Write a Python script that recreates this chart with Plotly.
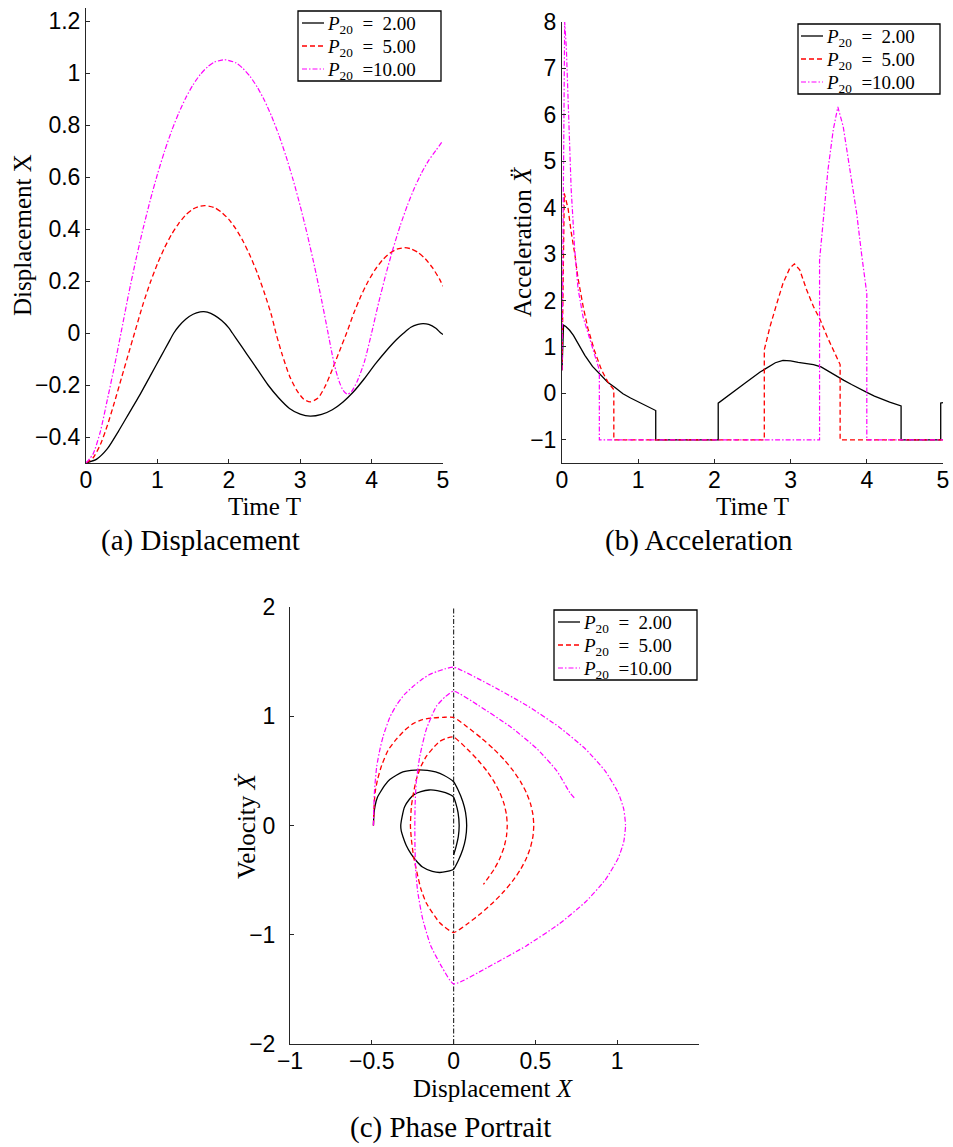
import plotly.graph_objects as go

# ---------------- data ----------------
legend_names = ["<i>P</i><sub>20</sub>\u2002=\u20022.00", "<i>P</i><sub>20</sub>\u2002=\u20025.00",
                "<i>P</i><sub>20</sub>\u2002=10.00"]

# (a) displacement
t_disp_p2 = [0, 0.15, 0.3, 0.45, 0.6, 0.75, 0.9, 1.05, 1.15, 1.23, 1.3, 1.4, 1.5, 1.6, 1.65, 1.7, 1.8, 1.9, 2.0, 2.05,
             2.15, 2.25, 2.4, 2.55, 2.7, 2.85, 3.0, 3.14, 3.3, 3.45, 3.6, 3.75, 3.9, 4.05, 4.2, 4.35, 4.45, 4.55, 4.65,
             4.72, 4.8, 4.9, 4.97, 5.0]
x_disp_p2 = [-0.5, -0.485, -0.445, -0.38, -0.31, -0.24, -0.165, -0.09, -0.04, 0.0, 0.026, 0.054, 0.072, 0.081, 0.082,
             0.08, 0.068, 0.048, 0.02, 0.0, -0.04, -0.08, -0.14, -0.2, -0.25, -0.29, -0.312, -0.32, -0.313, -0.295,
             -0.265, -0.225, -0.175, -0.12, -0.07, -0.025, 0.0, 0.022, 0.033, 0.036, 0.033, 0.018, 0.0, -0.006]

t_disp_p5 = [0, 0.1, 0.2, 0.3, 0.4, 0.5, 0.6, 0.68, 0.8, 0.9, 1.0, 1.1, 1.2, 1.3, 1.4, 1.5, 1.6, 1.67, 1.8, 1.9, 2.0,
             2.1, 2.2, 2.3, 2.4, 2.5, 2.6, 2.66, 2.75, 2.85, 2.95, 3.05, 3.14, 3.25, 3.35, 3.45, 3.55, 3.65, 3.75, 3.85,
             3.95, 4.05, 4.15, 4.25, 4.35, 4.46, 4.55, 4.65, 4.75, 4.85, 4.95, 5.0]
x_disp_p5 = [-0.5, -0.48, -0.43, -0.355, -0.265, -0.17, -0.075, 0.0, 0.112, 0.194, 0.266, 0.328, 0.38, 0.422, 0.455,
             0.477, 0.488, 0.49, 0.482, 0.464, 0.437, 0.4, 0.353, 0.296, 0.23, 0.153, 0.066, 0.0, -0.085, -0.165, -0.22,
             -0.255, -0.265, -0.25, -0.205, -0.14, -0.07, 0.0, 0.076, 0.142, 0.198, 0.244, 0.28, 0.306, 0.322, 0.328,
             0.324, 0.31, 0.286, 0.252, 0.208, 0.18]

t_disp_p10 = [0, 0.1, 0.2, 0.3, 0.4, 0.49, 0.6, 0.7, 0.8, 0.9, 1.0, 1.1, 1.2, 1.3, 1.4, 1.5, 1.6, 1.7, 1.8, 1.94, 2.1,
              2.2, 2.3, 2.4, 2.5, 2.6, 2.7, 2.8, 2.9, 3.0, 3.1, 3.2, 3.3, 3.39, 3.45, 3.5, 3.55, 3.6, 3.66, 3.72, 3.8,
              3.9, 4.0, 4.1, 4.2, 4.3, 4.4, 4.5, 4.6, 4.7, 4.8, 4.9, 5.0]
x_disp_p10 = [-0.5, -0.465, -0.38, -0.255, -0.125, 0.0, 0.154, 0.283, 0.402, 0.511, 0.61, 0.699, 0.778, 0.847, 0.906,
              0.955, 0.994, 1.023, 1.042, 1.051, 1.039, 1.017, 0.986, 0.945, 0.894, 0.833, 0.762, 0.681, 0.59, 0.489,
              0.378, 0.257, 0.126, 0.0, -0.085, -0.145, -0.19, -0.22, -0.236, -0.225, -0.185, -0.11, 0.0, 0.118,
              0.226, 0.324, 0.412, 0.49, 0.558, 0.616, 0.664, 0.702, 0.74]

# (b) acceleration
t_acc_p2 = [0, 0.02, 0.05, 0.1, 0.15, 0.2, 0.25, 0.3, 0.4, 0.5, 0.6, 0.7, 0.8, 0.9, 1.0, 1.1, 1.23, 1.23, 2.05, 2.05,
            2.2, 2.4, 2.6, 2.8, 2.9, 3.0, 3.1, 3.2, 3.3, 3.4, 3.5, 3.6, 3.7, 3.8, 3.9, 4.0, 4.1, 4.2, 4.3, 4.45, 4.45,
            4.97, 4.97, 5.0]
a_acc_p2 = [0.5, 1.47, 1.44, 1.36, 1.25, 1.1, 0.96, 0.82, 0.58, 0.4, 0.24, 0.12, -0.01, -0.1, -0.18, -0.25, -0.37, -1,
            -1, -0.21, -0.02, 0.22, 0.46, 0.66, 0.71, 0.70, 0.67, 0.65, 0.62, 0.57, 0.47, 0.37, 0.28, 0.19, 0.1, 0.02,
            -0.06, -0.13, -0.19, -0.27, -1, -1, -0.21, -0.2]

t_acc_p5 = [0, 0.03, 0.08, 0.12, 0.17, 0.21, 0.28, 0.34, 0.43, 0.52, 0.6, 0.68, 0.68, 2.655, 2.655, 2.73, 2.82, 2.9,
            2.99, 3.05, 3.12, 3.21, 3.3, 3.39, 3.48, 3.56, 3.65, 3.65, 5.0]
a_acc_p5 = [0.5, 4.31, 3.98, 3.48, 2.98, 2.48, 1.85, 1.4, 0.9, 0.5, 0.25, 0.08, -1, -1, 0.94, 1.44, 1.94, 2.37, 2.70,
            2.79, 2.66, 2.23, 1.87, 1.58, 1.22, 0.94, 0.62, -1, -1]

t_acc_p10 = [0, 0.035, 0.057, 0.08, 0.1, 0.12, 0.166, 0.21, 0.276, 0.34, 0.39, 0.44, 0.49, 0.49, 3.38, 3.38, 3.43,
             3.49, 3.56, 3.62, 3.69, 3.78, 3.867, 3.93, 4.0, 4.0, 5.0]
a_acc_p10 = [0.5, 8.0, 7.44, 6.35, 5.28, 4.41, 3.12, 2.26, 1.65, 1.3, 1.05, 0.78, 0.5, -1, -1, 2.87, 3.74, 4.81, 5.68,
             6.17, 5.75, 4.81, 3.88, 3.02, 2.15, -1, -1]

# (c) phase portrait
ph_x_p2 = [-0.49, -0.487, -0.48, -0.465, -0.45, -0.42, -0.39, -0.35, -0.31, -0.26, -0.21, -0.16, -0.11, -0.06, 0.0,
           0.029, 0.056, 0.073, 0.08, 0.073, 0.056, 0.029, 0.0, -0.04, -0.085, -0.13, -0.19, -0.23, -0.26, -0.29,
           -0.31, -0.32, -0.323, -0.315, -0.3, -0.27, -0.24, -0.2, -0.15, -0.1, -0.05, 0.0, 0.014, 0.027, 0.034,
           0.029, 0.014, 0.0]
ph_v_p2 = [0.0, 0.1, 0.18, 0.26, 0.3, 0.37, 0.42, 0.46, 0.49, 0.505, 0.51, 0.505, 0.49, 0.46, 0.4, 0.32, 0.22, 0.12,
           0.0, -0.12, -0.22, -0.32, -0.4, -0.42, -0.43, -0.42, -0.38, -0.32, -0.26, -0.18, -0.1, -0.05, 0.0, 0.08,
           0.17, 0.24, 0.285, 0.31, 0.325, 0.32, 0.3, 0.26, 0.2, 0.12, 0.0, -0.1, -0.2, -0.27]

ph_x_p5 = [-0.49, -0.487, -0.48, -0.465, -0.44, -0.40, -0.35, -0.30, -0.25, -0.19, -0.13, -0.065, 0.0,
           0.085, 0.17, 0.245, 0.31, 0.365, 0.41, 0.445, 0.47, 0.485, 0.49, 0.485, 0.47, 0.445, 0.41, 0.365, 0.31,
           0.245, 0.17, 0.085, 0.0,
           -0.085, -0.167, -0.2, -0.224, -0.245, -0.258, -0.264,
           -0.258, -0.245, -0.228, -0.2, -0.167, -0.125, -0.085, -0.04, 0.0,
           0.083, 0.148, 0.203, 0.248, 0.283, 0.308, 0.323, 0.328, 0.323, 0.308, 0.283, 0.248, 0.182]
ph_v_p5 = [0.0, 0.15, 0.3, 0.42, 0.55, 0.69, 0.79, 0.87, 0.93, 0.97, 0.985, 0.99, 0.99,
           0.9, 0.8, 0.7, 0.6, 0.5, 0.4, 0.3, 0.2, 0.1, 0.0, -0.1, -0.2, -0.3, -0.4, -0.5, -0.6,
           -0.7, -0.8, -0.9, -0.98,
           -0.89, -0.71, -0.58, -0.43, -0.28, -0.128, 0.0,
           0.177, 0.3, 0.42, 0.54, 0.633, 0.71, 0.77, 0.8, 0.81,
           0.7, 0.6, 0.5, 0.4, 0.3, 0.2, 0.1, 0.0, -0.1, -0.2, -0.3, -0.4, -0.54]

ph_x_p10 = [-0.49, -0.488, -0.483, -0.47, -0.45, -0.43, -0.39, -0.35, -0.3, -0.25, -0.2, -0.15, -0.1, -0.05, 0.0,
            0.206, 0.446, 0.646, 0.806, 0.926, 1.006, 1.04, 1.051, 1.04, 1.006, 0.926, 0.806, 0.646, 0.446, 0.206, 0.0,
            -0.07, -0.14, -0.19, -0.22, -0.232, -0.236, -0.237, -0.235, -0.228, -0.207, -0.167, -0.106, -0.05, 0.0,
            0.151, 0.351, 0.511, 0.631, 0.711, 0.74]
ph_v_p10 = [0.0, 0.15, 0.33, 0.54, 0.7, 0.82, 0.99, 1.1, 1.2, 1.27, 1.33, 1.38, 1.41, 1.435, 1.45,
            1.3, 1.1, 0.9, 0.7, 0.5, 0.3, 0.15, 0.0, -0.15, -0.3, -0.5, -0.7, -0.9, -1.1, -1.3, -1.45,
            -1.3, -1.1, -0.85, -0.6, -0.4, -0.2, 0.0, 0.2, 0.4, 0.63, 0.88, 1.09, 1.18, 1.23,
            1.1, 0.9, 0.7, 0.5, 0.3, 0.25]

boundary_x = 0.0

# ---------------- styling ----------------
W, H = 953, 1147
colors = ["#000000", "#ff0000", "#ff00ff"]
dashes = ["solid", "5px,3px", "5px,2px,1.5px,2px"]
widths = [1.3, 1.3, 1.2]
SERIF = "Liberation Serif, Times New Roman, serif"
SANS = "Liberation Sans, Arial, sans-serif"
AXC = "#262626"


def px_x(p):
    return p / W


def px_y(p):
    return 1 - p / H


fig = go.Figure()

disp = [(t_disp_p2, x_disp_p2), (t_disp_p5, x_disp_p5), (t_disp_p10, x_disp_p10)]
acc = [(t_acc_p2, a_acc_p2), (t_acc_p5, a_acc_p5), (t_acc_p10, a_acc_p10)]
phase = [(ph_x_p2, ph_v_p2), (ph_x_p5, ph_v_p5), (ph_x_p10, ph_v_p10)]

for i in range(3):
    fig.add_trace(go.Scatter(x=disp[i][0], y=disp[i][1], mode="lines", name=legend_names[i], showlegend=False,
                             line=dict(color=colors[i], dash=dashes[i], width=widths[i], shape="spline", smoothing=0.6),
                             xaxis="x", yaxis="y"))
for i in range(3):
    fig.add_trace(go.Scatter(x=acc[i][0], y=acc[i][1], mode="lines", name=legend_names[i], showlegend=False,
                             line=dict(color=colors[i], dash=dashes[i], width=widths[i]),
                             xaxis="x2", yaxis="y2"))
for i in range(3):
    fig.add_trace(go.Scatter(x=phase[i][0], y=phase[i][1], mode="lines", name=legend_names[i], showlegend=False,
                             line=dict(color=colors[i], dash=dashes[i], width=widths[i], shape="spline", smoothing=0.5),
                             xaxis="x3", yaxis="y3"))

fig.add_shape(type="line", xref="x3", yref="y3 domain", x0=boundary_x, x1=boundary_x, y0=0, y1=1,
              line=dict(color="#333333", width=1.2, dash="5px,2px,1.5px,2px"), layer="below")


def ax(domain, rng, **kw):
    d = dict(domain=domain, range=rng, showline=True, linecolor=AXC, linewidth=1, ticks="inside", ticklen=4,
             tickcolor=AXC, showgrid=False, zeroline=False, mirror=False, automargin=False,
             tickfont=dict(family=SANS, size=23, color="black"))
    d.update(kw)
    return d


fig.update_layout(
    width=W, height=H, margin=dict(l=0, r=0, t=0, b=0, autoexpand=False), plot_bgcolor="white",
    paper_bgcolor="white", showlegend=False,
    xaxis=ax([px_x(86), px_x(443)], [0, 5], dtick=1, anchor="y", ticklabelstandoff=-4),
    yaxis=ax([px_y(463), px_y(8)], [-0.5, 1.25], dtick=0.2, tick0=0, anchor="x"),
    xaxis2=ax([px_x(562), px_x(943)], [0, 5], dtick=1, anchor="y2", ticklabelstandoff=-4),
    yaxis2=ax([px_y(463), px_y(22)], [-1.5, 8], dtick=1, anchor="x2"),
    xaxis3=ax([px_x(290), px_x(699)], [-1, 1.5], tickvals=[-1, -0.5, 0, 0.5, 1],
              ticktext=["\u22121", "\u22120.5", "0", "0.5", "1"], anchor="y3", ticklabelstandoff=-4),
    yaxis3=ax([px_y(1044), px_y(607)], [-2, 2], dtick=1, anchor="x3", ticklabelstandoff=9),
)

# axis titles placed as in the reference
axis_titles = [("Time T", 264.5, 506, 0), ("Time T", 752.5, 506, 0), ("Displacement <i>X</i>", 494, 1088, 0),
               ("Displacement X", 22, 235, -90), ("Acceleration <i>Ẍ</i>", 523, 242, -90),
               ("Velocity <i>Ẋ</i>", 246, 826, -90)]
for txt, cx, cy, ang in axis_titles:
    fig.add_annotation(text=txt, xref="paper", yref="paper", x=px_x(cx), y=px_y(cy), xanchor="center",
                       yanchor="middle", showarrow=False, borderpad=0, textangle=ang,
                       font=dict(family=SERIF, size=25, color="black"))


# legend boxes drawn like the reference (compact MATLAB style)
def add_legend(box, rows_y, line_x0, line_x1, text_x):
    x0, y0, x1, y1 = box
    fig.add_shape(type="rect", xref="paper", yref="paper", x0=px_x(x0), x1=px_x(x1), y0=px_y(y1), y1=px_y(y0),
                  fillcolor="white", line=dict(color="black", width=1.3), layer="above")
    for i, ry in enumerate(rows_y):
        fig.add_shape(type="line", xref="paper", yref="paper", x0=px_x(line_x0), x1=px_x(line_x1),
                      y0=px_y(ry), y1=px_y(ry), line=dict(color=colors[i], dash=dashes[i], width=widths[i]),
                      layer="above")
        fig.add_annotation(text=legend_names[i], xref="paper", yref="paper", x=px_x(text_x), y=px_y(ry + 2),
                           xanchor="left", yanchor="middle", showarrow=False, borderpad=0,
                           font=dict(family=SERIF, size=19, color="black"))


add_legend((298, 11, 441, 81), [23, 46, 69], 302, 324, 326)
add_legend((798, 24, 940, 94), [36, 59, 82], 801, 823, 825)
add_legend((554, 610, 697, 680), [622, 645, 668], 558, 580, 582)

captions = [("(a) Displacement", 200, 540), ("(b) Acceleration", 699, 540), ("(c) Phase Portrait", 450, 1127)]
for txt, cx, cy in captions:
    fig.add_annotation(text=txt, xref="paper", yref="paper", x=px_x(cx), y=px_y(cy), xanchor="center",
                       yanchor="middle", showarrow=False, font=dict(family=SERIF, size=29, color="black"))

fig.write_html("out.html")
